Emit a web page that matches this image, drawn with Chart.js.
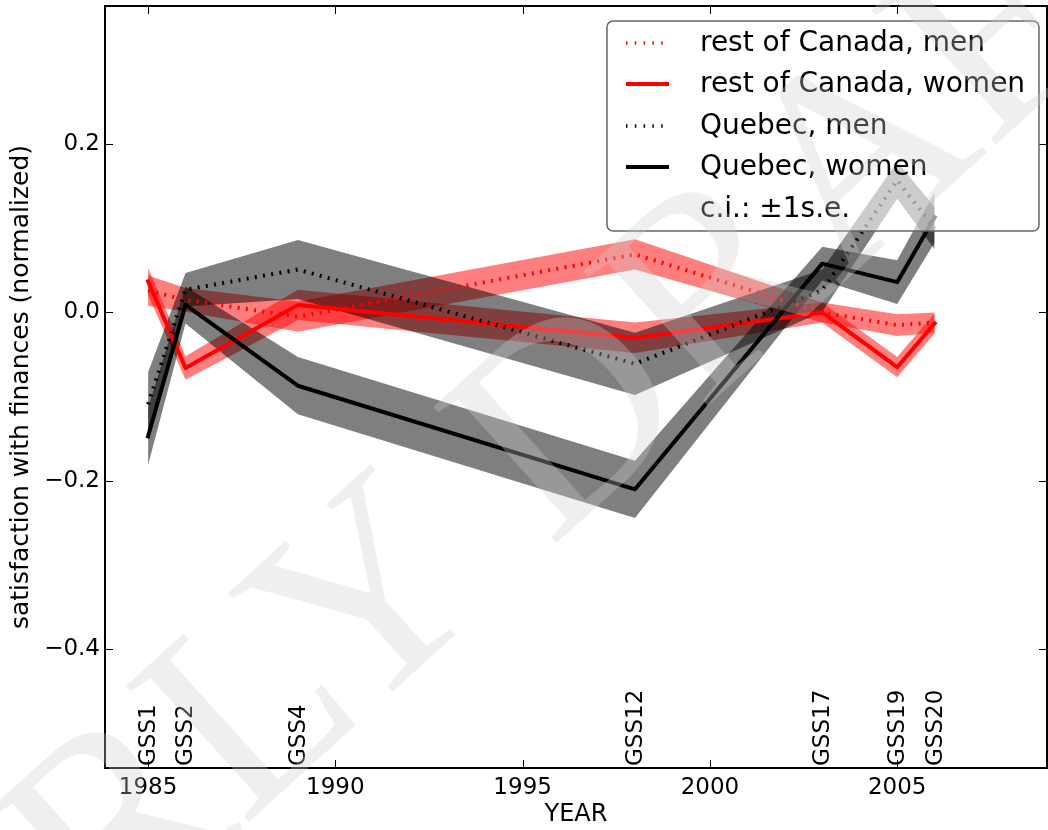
<!DOCTYPE html>
<html>
<head>
<meta charset="utf-8">
<script src="https://cdn.jsdelivr.net/npm/chart.js@4"></script>
<style>
  body { margin: 0; background: #fff; }
  canvas { display: block; }
</style>
</head>
<body>
<canvas id="grafico" width="1048" height="830"></canvas>
<script>
// survey years and labels
const anos = [1985, 1986, 1989, 1998, 2003, 2005, 2006];
const pesquisas = ["GSS1", "GSS2", "GSS4", "GSS12", "GSS17", "GSS19", "GSS20"];

// series values (normalized satisfaction) and standard errors
const canadaHomens = [0.026, 0.015, -0.005, 0.069, 0.000, -0.015, -0.012];
const canadaHomensEP = [0.018, 0.014, 0.018, 0.018, 0.012, 0.013, 0.012];
const canadaMulheres = [0.037, -0.066, 0.009, -0.030, 0.000, -0.065, -0.013];
const canadaMulheresEP = [0.016, 0.014, 0.018, 0.018, 0.012, 0.012, 0.012];
const quebecHomens = [-0.109, 0.027, 0.051, -0.061, 0.026, 0.157, 0.100];
const quebecHomensEP = [0.038, 0.020, 0.035, 0.037, 0.025, 0.022, 0.025];
const quebecMulheres = [-0.147, 0.009, -0.087, -0.210, 0.058, 0.036, 0.113];
const quebecMulheresEP = [0.034, 0.022, 0.034, 0.034, 0.020, 0.026, 0.030];

// ticks
const ticksX = [1985, 1990, 1995, 2000, 2005];
const ticksY = [-0.4, -0.2, 0.0, 0.2];

const series = [
  { label: "Quebec, women", valores: quebecMulheres, ep: quebecMulheresEP, cor: "#000000", banda: "rgba(0,0,0,0.5)", pontilhado: false },
  { label: "Quebec, men", valores: quebecHomens, ep: quebecHomensEP, cor: "#000000", banda: "rgba(0,0,0,0.5)", pontilhado: true },
  { label: "rest of Canada, women", valores: canadaMulheres, ep: canadaMulheresEP, cor: "#ff0000", banda: "rgba(255,0,0,0.5)", pontilhado: false },
  { label: "rest of Canada, men", valores: canadaHomens, ep: canadaHomensEP, cor: "#ff0000", banda: "rgba(255,0,0,0.5)", pontilhado: true }
];

const datasets = [];
series.forEach(s => {
  datasets.push({
    label: s.label + " hi",
    data: anos.map((a, i) => ({ x: a, y: s.valores[i] + s.ep[i] })),
    borderWidth: 0, pointRadius: 0, fill: false
  });
  datasets.push({
    label: s.label + " lo",
    data: anos.map((a, i) => ({ x: a, y: s.valores[i] - s.ep[i] })),
    borderWidth: 0, pointRadius: 0, fill: "-1", backgroundColor: s.banda
  });
  datasets.push({
    label: s.label,
    data: anos.map((a, i) => ({ x: a, y: s.valores[i] })),
    borderColor: s.cor,
    borderWidth: 4,
    borderDash: s.pontilhado ? [2, 6.3] : [],
    borderCapStyle: s.pontilhado ? "butt" : "square",
    borderJoinStyle: "round",
    pointRadius: 0,
    fill: false,
    tension: 0
  });
});

const menos = v => (v < 0 ? "\u2212" : "") + Math.abs(v).toFixed(1);

// frame, inward ticks, survey labels, legend and watermark
const extras = {
  id: "extras",
  afterDraw(chart) {
    const ctx = chart.ctx;
    const area = chart.chartArea;
    const x = chart.scales.x;
    const y = chart.scales.y;

    ctx.save();
    ctx.strokeStyle = "#000";
    ctx.lineWidth = 1;
    ticksX.forEach(v => {
      const px = Math.round(x.getPixelForValue(v)) + 0.5;
      ctx.beginPath();
      ctx.moveTo(px, area.bottom); ctx.lineTo(px, area.bottom - 8);
      ctx.moveTo(px, area.top); ctx.lineTo(px, area.top + 8);
      ctx.stroke();
    });
    ticksY.forEach(v => {
      const py = Math.round(y.getPixelForValue(v)) + 0.5;
      ctx.beginPath();
      ctx.moveTo(area.left, py); ctx.lineTo(area.left + 8, py);
      ctx.moveTo(area.right, py); ctx.lineTo(area.right - 8, py);
      ctx.stroke();
    });
    ctx.lineWidth = 2;
    ctx.strokeRect(area.left, area.top, area.right - area.left, area.bottom - area.top);

    // survey names along the bottom
    ctx.fillStyle = "#000";
    ctx.font = "23px 'DejaVu Sans'";
    ctx.textAlign = "left";
    ctx.textBaseline = "middle";
    anos.forEach((a, i) => {
      ctx.save();
      ctx.translate(x.getPixelForValue(a), area.bottom - 2);
      ctx.rotate(-Math.PI / 2);
      ctx.fillText(pesquisas[i], 0, 1);
      ctx.restore();
    });

    // legend
    const lx = 607, ly = 21, lw = 432, lh = 210;
    ctx.beginPath();
    ctx.roundRect(lx, ly, lw, lh, 6);
    ctx.fillStyle = "rgba(255,255,255,0.6)";
    ctx.fill();
    ctx.strokeStyle = "#666";
    ctx.lineWidth = 1.5;
    ctx.stroke();

    const itens = [series[3], series[2], series[1], series[0]];
    const linhasY = [43, 84, 126, 167];
    ctx.font = "28px 'DejaVu Sans'";
    ctx.textBaseline = "middle";
    itens.forEach((s, i) => {
      ctx.beginPath();
      ctx.strokeStyle = s.cor;
      if (s.pontilhado) {
        ctx.lineWidth = 3.5;
        ctx.setLineDash([1.5, 7.3]);
      } else {
        ctx.lineWidth = 4;
        ctx.setLineDash([]);
      }
      ctx.moveTo(626, linhasY[i]);
      ctx.lineTo(669, linhasY[i]);
      ctx.stroke();
      ctx.setLineDash([]);
      ctx.fillStyle = "#000";
      ctx.fillText(s.label, 700, linhasY[i] + 1);
    });
    ctx.fillText("c.i.: \u00b11s.e.", 700, 210);

    // watermark
    ctx.translate(480, 513);
    ctx.rotate(-42.2 * Math.PI / 180);
    ctx.font = "280px 'Liberation Serif'";
    ctx.textAlign = "center";
    ctx.fillStyle = "rgba(205,205,205,0.32)";
    ctx.fillText("EARLY DRAFT", 0, 0);
    ctx.restore();
  }
};

Chart.defaults.font.family = "'DejaVu Sans'";
Chart.defaults.color = "#000";

new Chart(document.getElementById("grafico"), {
  type: "line",
  data: { datasets: datasets },
  plugins: [extras],
  options: {
    responsive: false,
    animation: false,
    devicePixelRatio: 1,
    layout: { padding: { left: 0, top: 6, right: 1, bottom: 0 } },
    plugins: {
      legend: { display: false },
      tooltip: { enabled: false },
      filler: { drawTime: "beforeDatasetsDraw", propagate: false }
    },
    scales: {
      x: {
        type: "linear",
        min: 1983.85,
        max: 2009,
        grid: { display: false, drawTicks: false, tickLength: 0 },
        border: { display: false },
        afterBuildTicks: s => { s.ticks = ticksX.map(v => ({ value: v })); },
        afterFit: s => { s.height = 62; s.paddingLeft = 0; s.paddingRight = 0; },
        ticks: { font: { size: 23 }, padding: 6, maxRotation: 0, callback: v => String(v) },
        title: { display: true, text: "YEAR", font: { size: 24 }, padding: { top: 0, bottom: 1 } }
      },
      y: {
        min: -0.541,
        max: 0.364,
        grid: { display: false, drawTicks: false, tickLength: 0 },
        border: { display: false },
        afterBuildTicks: s => { s.ticks = ticksY.map(v => ({ value: v })); },
        afterFit: s => { s.width = 105; s.paddingTop = 0; s.paddingBottom = 0; },
        ticks: { font: { size: 23 }, padding: 5, callback: v => menos(v) },
        title: { display: true, text: "satisfaction with finances (normalized)", font: { size: 25 }, padding: { top: 6, bottom: 0 } }
      }
    }
  }
});
</script>
</body>
</html>
